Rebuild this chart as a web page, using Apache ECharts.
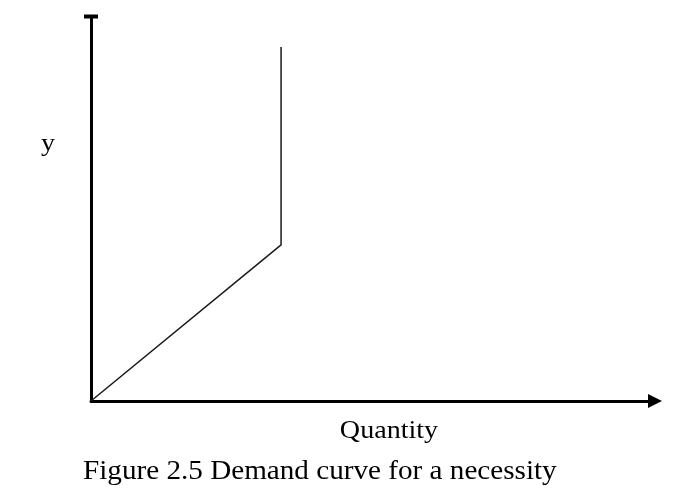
<!DOCTYPE html>
<html>
<head>
<meta charset="utf-8">
<script src="https://cdn.jsdelivr.net/npm/echarts@6/dist/echarts.min.js"></script>
<style>html,body{margin:0;padding:0;background:#fff;}#c{width:677px;height:501px;}</style>
</head>
<body>
<div id="c"></div>
<script>
// Demand curve points (quantity, income y) in arbitrary units
const curveX = [0, 33.7, 33.7];
const curveY = [0, 40.6, 92.1];
const xLabel = 'Quantity';
const yLabel = 'y';
const caption = 'Figure 2.5 Demand curve for a necessity';

const chart = echarts.init(document.getElementById('c'), null, {renderer: 'canvas'});
const serif = '"Liberation Serif", "DejaVu Serif", serif';
chart.setOption({
  animation: false,
  backgroundColor: '#fff',
  grid: {left: 91, right: 22, top: 16.5, bottom: 100, containLabel: false},
  xAxis: {
    type: 'value', min: 0, max: 100,
    axisLine: {show: true, onZero: false, symbol: ['none', 'triangle'], symbolSize: [14, 14],
      lineStyle: {color: '#000', width: 3}},
    axisTick: {show: false}, axisLabel: {show: false}, splitLine: {show: false}
  },
  yAxis: {
    type: 'value', min: 0, max: 100,
    axisLine: {show: true, onZero: false, symbol: ['none', 'rect'], symbolSize: [14, 4],
      lineStyle: {color: '#000', width: 3}},
    axisTick: {show: false}, axisLabel: {show: false}, splitLine: {show: false}
  },
  series: [{
    type: 'line',
    data: curveX.map((x, i) => [x, curveY[i]]),
    symbol: 'none',
    lineStyle: {color: '#1a1a1a', width: 1.5}
  }],
  graphic: [
    {type: 'text', x: 48, y: 157, scaleX: 1.08, style: {text: yLabel, font: '26px ' + serif, fill: '#000', textAlign: 'center', textVerticalAlign: 'bottom'}},
    {type: 'text', x: 389, y: 444, scaleX: 1.08, style: {text: xLabel, font: '26px ' + serif, fill: '#000', textAlign: 'center', textVerticalAlign: 'bottom'}},
    {type: 'text', x: 83, y: 485, scaleX: 1.08, style: {text: caption, font: '27px ' + serif, fill: '#000', textAlign: 'left', textVerticalAlign: 'bottom'}}
  ]
});
</script>
</body>
</html>
